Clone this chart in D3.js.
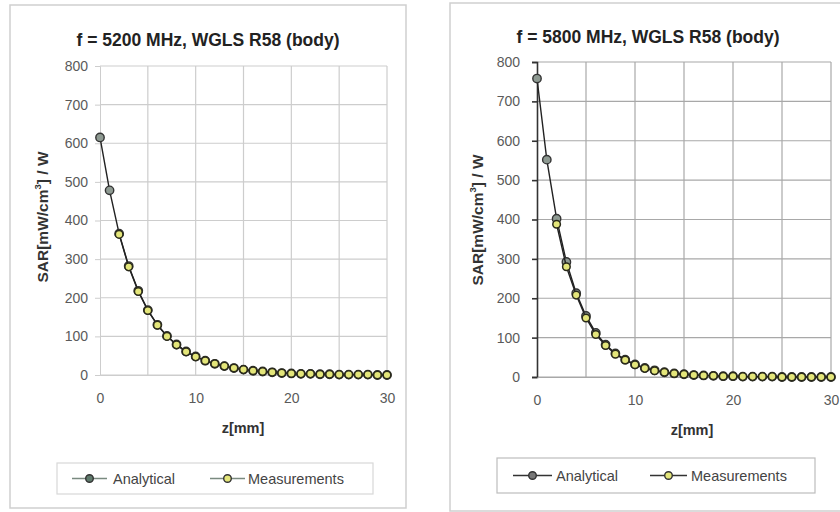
<!DOCTYPE html>
<html>
<head>
<meta charset="utf-8">
<script src="https://cdn.jsdelivr.net/npm/d3@7"></script>
<style>
  body { margin: 0; background: #fff; }
  svg { font-family: "Liberation Sans", Arial, sans-serif; }
</style>
</head>
<body>
<svg id="chart" width="840" height="512"></svg>
<script>
// depth values (mm)
const zValues = [0,1,2,3,4,5,6,7,8,9,10,11,12,13,14,15,16,17,18,19,20,21,22,23,24,25,26,27,28,29,30];
const yTicks = [0,100,200,300,400,500,600,700,800];
const xTicks = [0,10,20,30];

// f = 5200 MHz
const analytical5200 = [615,478,366,282,218,168,130,101,79,61,48,37,29,23,18,14,11,9,7,5,4,3,3,2,2,1,1,1,1,0,0];
const measZ5200 = [2,3,4,5,6,7,8,9,10,11,12,13,14,15,16,17,18,19,20,21,22,23,24,25,26,27,28,29,30];
const measured5200 = [364,280,216,167,129,100,78,60,47,37,29,23,18,14,11,9,7,5,4,3,3,2,2,1,1,1,1,0,0];

// f = 5800 MHz
const analytical5800 = [758,552,402,292,213,155,112,82,60,44,32,23,17,12,9,7,5,4,3,2,2,1,1,1,1,0,0,0,0,0,0];
const measZ5800 = [2,3,4,5,6,7,8,9,10,11,12,13,14,15,16,17,18,19,20,21,22,23,24,25,26,27,28,29,30];
const measured5800 = [388,280,208,150,108,80,58,43,31,22,16,12,9,7,5,4,3,2,2,1,1,1,1,0,0,0,0,0,0];

const svg = d3.select("#chart");

function drawPanel(p) {
  const g = svg.append("g");

  // panel frame
  g.append("rect")
    .attr("x", p.box[0]).attr("y", p.box[1])
    .attr("width", p.box[2]).attr("height", p.box[3])
    .attr("fill", "#fff").attr("stroke", "#cfcfcf").attr("stroke-width", 1.5);

  const x = d3.scaleLinear().domain([0, 30]).range([p.left, p.right]);
  const y = d3.scaleLinear().domain([0, 800]).range([p.bottom, p.top]);

  // grid
  g.append("g").selectAll("line").data(yTicks).enter().append("line")
    .attr("x1", p.left).attr("x2", p.right)
    .attr("y1", d => y(d)).attr("y2", d => y(d))
    .attr("stroke", p.gridColor).attr("stroke-width", 1.2);
  g.append("g").selectAll("line").data([5,10,15,20,25,30]).enter().append("line")
    .attr("y1", p.top).attr("y2", p.bottom)
    .attr("x1", d => x(d)).attr("x2", d => x(d))
    .attr("stroke", p.gridColor).attr("stroke-width", 1.2);

  // axes
  const ya = g.append("g")
    .attr("transform", "translate(" + p.left + ",0)")
    .call(d3.axisLeft(y).tickValues(yTicks).tickSize(p.tickSize).tickPadding(p.yPad));
  ya.select(".domain").attr("stroke", p.axisColor).attr("stroke-width", p.axisWidth);
  ya.selectAll(".tick line").attr("stroke", p.axisColor).attr("stroke-width", p.axisWidth);
  ya.selectAll("text").attr("font-size", 14).attr("fill", "#5a5a5a");

  const xa = g.append("g")
    .attr("transform", "translate(0," + p.bottom + ")")
    .call(d3.axisBottom(x).tickValues(xTicks).tickSize(0).tickPadding(18));
  xa.select(".domain").attr("stroke", p.gridColor);
  xa.selectAll("text").attr("font-size", 14).attr("fill", "#5a5a5a");

  // title and labels
  g.append("text")
    .attr("x", p.titleX).attr("y", p.titleY)
    .attr("text-anchor", "middle")
    .attr("font-size", 17.5).attr("font-weight", "bold").attr("fill", "#222")
    .text(p.title);

  g.append("text")
    .attr("x", p.xlabelX).attr("y", p.bottom + 58)
    .attr("text-anchor", "middle")
    .attr("font-size", 14.5).attr("font-weight", "bold").attr("fill", "#333")
    .text("z[mm]");

  const yl = g.append("text")
    .attr("transform", "translate(" + p.ylabelX + "," + p.ylabelY + ") rotate(-90)")
    .attr("text-anchor", "middle")
    .attr("font-size", 15.5).attr("font-weight", "bold").attr("fill", "#333");
  yl.append("tspan").text("SAR[mW/cm");
  yl.append("tspan").attr("font-size", 9.5).attr("dy", -7).text("3");
  yl.append("tspan").attr("dy", 7).text("] / W");

  const line = d3.line().x(d => x(d[0])).y(d => y(d[1]));
  const aData = zValues.map((z, i) => [z, p.analytical[i]]);
  const mData = p.measZ.map((z, i) => [z, p.measured[i]]);

  g.append("path").datum(aData).attr("d", line)
    .attr("fill", "none").attr("stroke", "#222").attr("stroke-width", 1.4);
  g.append("g").selectAll("circle").data(aData).enter().append("circle")
    .attr("cx", d => x(d[0])).attr("cy", d => y(d[1])).attr("r", 4.2)
    .attr("fill", "#8e9a92").attr("stroke", "#333").attr("stroke-width", 1.4);

  g.append("path").datum(mData).attr("d", line)
    .attr("fill", "none").attr("stroke", "#222").attr("stroke-width", 1.4);
  g.append("g").selectAll("circle").data(mData).enter().append("circle")
    .attr("cx", d => x(d[0])).attr("cy", d => y(d[1])).attr("r", 3.8)
    .attr("fill", "#e4e67a").attr("stroke", "#2a2a1a").attr("stroke-width", 1.5);

  // legend
  const lg = g.append("g");
  lg.append("rect")
    .attr("x", p.legend[0]).attr("y", p.legend[1])
    .attr("width", p.legend[2]).attr("height", p.legend[3])
    .attr("fill", "#fff").attr("stroke", p.legendStroke).attr("stroke-width", 1.2);
  const ly = p.legend[1] + p.legend[3] / 2;
  const items = [
    { label: "Analytical", fill: p.legendAFill, at: p.legendItems[0] },
    { label: "Measurements", fill: "#e4e67a", at: p.legendItems[1] }
  ];
  items.forEach(it => {
    const [x0, x1, tx] = it.at;
    lg.append("line").attr("x1", x0).attr("x2", x1).attr("y1", ly).attr("y2", ly)
      .attr("stroke", p.legendLine).attr("stroke-width", 1.6);
    lg.append("circle").attr("cx", (x0 + x1) / 2).attr("cy", ly).attr("r", 3.8)
      .attr("fill", it.fill).attr("stroke", "#333").attr("stroke-width", 1.4);
    lg.append("text").attr("x", tx).attr("y", ly + 5)
      .attr("font-size", 14.5).attr("fill", "#444").text(it.label);
  });
}

drawPanel({
  box: [10, 5, 396, 503],
  left: 100, right: 387, top: 66, bottom: 375,
  title: "f = 5200 MHz, WGLS R58 (body)", titleX: 208, titleY: 46,
  xlabelX: 243, ylabelX: 48, ylabelY: 217,
  analytical: analytical5200, measZ: measZ5200, measured: measured5200,
  gridColor: "#cdcdcd", axisColor: "#cdcdcd", axisWidth: 1, tickSize: 5, yPad: 7,
  legend: [57, 463, 316, 31], legendStroke: "#d8d8d8",
  legendItems: [[72, 107, 113], [210, 245, 248]],
  legendAFill: "#5f7a6c", legendLine: "#7a8a80"
});

drawPanel({
  box: [450, 3, 395, 508],
  left: 537, right: 831, top: 62, bottom: 377,
  title: "f = 5800 MHz, WGLS R58 (body)", titleX: 648, titleY: 43,
  xlabelX: 692, ylabelX: 483, ylabelY: 220,
  analytical: analytical5800, measZ: measZ5800, measured: measured5800,
  gridColor: "#a8a8a8", axisColor: "#333", axisWidth: 1.6, tickSize: 5, yPad: 12,
  legend: [497, 458, 318, 35], legendStroke: "#bdbdbd",
  legendItems: [[513, 552, 556], [650, 687, 691]],
  legendAFill: "#777", legendLine: "#333"
});
</script>
</body>
</html>
